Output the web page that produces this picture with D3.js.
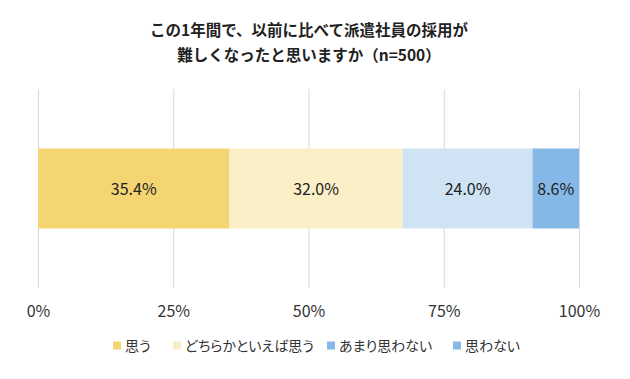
<!DOCTYPE html>
<html><head><meta charset="utf-8">
<script src="https://cdn.jsdelivr.net/npm/d3@7"></script>
<style>body{margin:0;background:#fff}svg{display:block}text{font-family:"Noto Sans CJK JP","Noto Sans",sans-serif}.lg text{font-feature-settings:"palt"}</style>
</head><body><div id="chart"></div>
<script>
const titleLines = ["この1年間で、以前に比べて派遣社員の採用が", "難しくなったと思いますか（n=500）"];
const categories = ["全体"];
const seriesNames = ["思う", "どちらかといえば思う", "あまり思わない", "思わない"];
const seriesValues = [35.4, 32.0, 24.0, 8.6];
const seriesColors = ["#F5D571", "#FAEFC7", "#CFE3F5", "#85B8E6"];
const legendColors = ["#F5D571", "#FAEFC7", "#85B8E6", "#85B8E6"];
const tickValues = [0, 25, 50, 75, 100];
const tickLabels = ["0%", "25%", "50%", "75%", "100%"];

const W = 630, H = 379;
const svg = d3.select("#chart").append("svg").attr("width", W).attr("height", H);
const x = d3.scaleLinear().domain([0, 100]).range([38, 579]);
const y = d3.scaleBand().domain(categories).range([89, 288]).paddingInner(0).paddingOuter(0.744);

// title
svg.selectAll("text.title").data(titleLines).join("text")
  .attr("class", "title").attr("x", 309).attr("y", (d, i) => 35.5 + i * 25)
  .attr("text-anchor", "middle").attr("font-size", 15.5).attr("font-weight", "bold").attr("fill", "#222")
  .text(d => d);

// gridlines via axis
const axis = d3.axisBottom(x).tickValues(tickValues).tickFormat((d, i) => tickLabels[i]).tickSize(-(288 - 89)).tickPadding(0);
const g = svg.append("g").attr("transform", "translate(0,288)").call(axis);
g.select(".domain").remove();
g.selectAll(".tick line").attr("stroke", "#d9d9d9").attr("stroke-width", 1);
g.selectAll(".tick text").attr("font-size", 16).attr("fill", "#333").attr("dy", 0).attr("y", 29);

// stacked bars
let cum = 0;
const segs = seriesValues.map((v, i) => { const s = {name: seriesNames[i], v, x0: cum, x1: cum + v, c: seriesColors[i]}; cum += v; return s; });
const barY = y(categories[0]);
svg.selectAll("rect.seg").data(segs).join("rect").attr("class", "seg")
  .attr("x", d => x(d.x0)).attr("width", d => x(d.x1) - x(d.x0))
  .attr("y", barY).attr("height", y.bandwidth()).attr("fill", d => d.c);
svg.selectAll("text.lbl").data(segs).join("text").attr("class", "lbl")
  .attr("x", d => (x(d.x0) + x(d.x1)) / 2).attr("y", barY + y.bandwidth() / 2 + 6)
  .attr("text-anchor", "middle").attr("font-size", 16).attr("fill", "#222")
  .text(d => d.v.toFixed(1) + "%");

// legend
const legendX = [113, 173, 327, 453];
const lg = svg.selectAll("g.lg").data(seriesNames).join("g").attr("class", "lg")
  .attr("transform", (d, i) => `translate(${legendX[i]},345.5)`);
lg.append("rect").attr("x", 0).attr("y", -4).attr("width", 8).attr("height", 8).attr("fill", (d, i) => legendColors[i]);
lg.append("text").attr("x", 12).attr("y", 5).attr("font-size", 14).attr("fill", "#333").text(d => d);
</script></body></html>
